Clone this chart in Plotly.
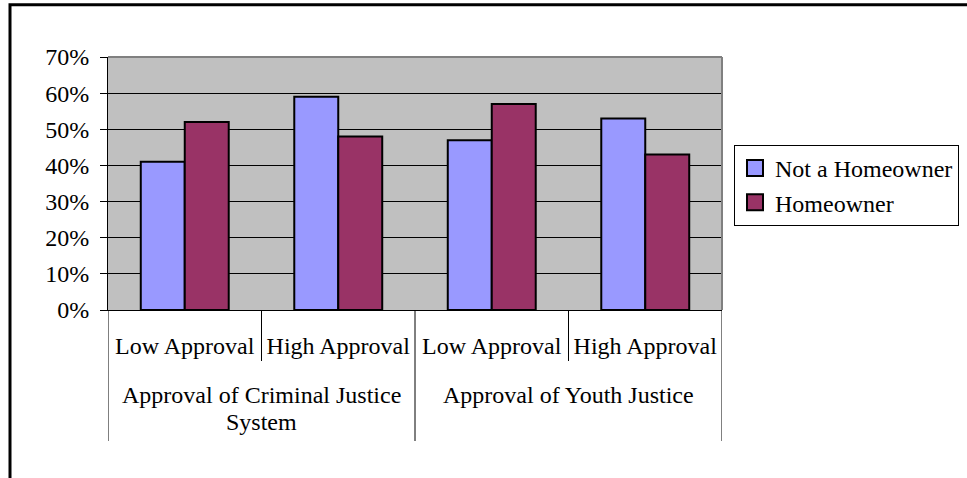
import plotly.graph_objects as go

groups = ["Approval of Criminal Justice System", "Approval of Youth Justice"]
inner = ["Low Approval", "High Approval", "Low Approval", "High Approval"]
positions = [0, 1, 2, 3]
series_names = ["Not a Homeowner", "Homeowner"]
not_homeowner = [0.41, 0.59, 0.47, 0.53]
homeowner = [0.52, 0.48, 0.57, 0.43]
y_ticks = [0, 0.1, 0.2, 0.3, 0.4, 0.5, 0.6, 0.7]

FONT = "Liberation Serif, Times New Roman, serif"
COLORS = ["#9999FF", "#993366"]

fig = go.Figure()
for name, vals, col in zip(series_names, [not_homeowner, homeowner], COLORS):
    fig.add_trace(go.Bar(x=positions, y=vals, name=name, showlegend=False,
                         marker=dict(color=col, line=dict(color="black", width=2))))
# legend entries with larger square swatches
for name, col in zip(series_names, COLORS):
    fig.add_trace(go.Scatter(x=[None], y=[None], mode="markers", name=name,
                             marker=dict(symbol="square", size=16, color=col,
                                         line=dict(color="black", width=2))))

# plot area in page pixels: x 108..722, y 57..310
def px_x(page_x):
    return (page_x - 108) / 614

def px_y(page_y):
    return (310 - page_y) / 253

shapes = [
    dict(type="line", xref="paper", yref="paper", x0=0, x1=1, y0=1, y1=1,
         line=dict(color="#808080", width=2)),
    dict(type="line", xref="paper", yref="paper", x0=1, x1=1, y0=0, y1=1,
         line=dict(color="#808080", width=2)),
    dict(type="rect", xref="paper", yref="paper",
         x0=px_x(10), x1=px_x(990), y0=px_y(500), y1=px_y(4.7),
         line=dict(color="black", width=3)),
]
# inner dividers (between sub-categories) and outer dividers (between groups)
for xb in [0.5, 2.5]:
    shapes.append(dict(type="line", xref="x", yref="paper", x0=xb, x1=xb,
                       y0=0, y1=px_y(361), line=dict(color="black", width=1)))
for xb in [-0.5, 1.5, 3.5]:
    shapes.append(dict(type="line", xref="x", yref="paper", x0=xb, x1=xb,
                       y0=0, y1=px_y(441), line=dict(color="black", width=1)))

annotations = [
    dict(x=0.5, xref="x", y=px_y(395.2), yref="paper", text="Approval of Criminal Justice",
         showarrow=False, xanchor="center", yanchor="middle", font=dict(family=FONT, size=24)),
    dict(x=0.5, xref="x", y=px_y(422), yref="paper", text="System",
         showarrow=False, xanchor="center", yanchor="middle", font=dict(family=FONT, size=24)),
    dict(x=2.5, xref="x", y=px_y(395.2), yref="paper", text=groups[1],
         showarrow=False, xanchor="center", yanchor="middle", font=dict(family=FONT, size=24)),
]

fig.update_layout(
    width=967, height=478,
    margin=dict(l=108, r=245, t=57, b=168, autoexpand=False),
    paper_bgcolor="white", plot_bgcolor="#C0C0C0",
    font=dict(family=FONT, size=24, color="black"),
    barmode="group", bargap=0.427, bargroupgap=0,
    showlegend=True,
    legend=dict(x=px_x(959), y=px_y(145), xanchor="right", yanchor="top",
                bordercolor="black", borderwidth=1, bgcolor="white",
                font=dict(family=FONT, size=24), itemsizing="trace", itemwidth=30),
    xaxis=dict(range=[-0.5, 3.5], tickvals=positions, ticktext=inner,
               showline=True, linecolor="black", linewidth=1, ticks="",
               tickangle=0, automargin=False, ticklabelstandoff=14,
               tickfont=dict(family=FONT, size=24), showgrid=False, zeroline=False),
    yaxis=dict(range=[0, 0.7], tickvals=y_ticks, tickformat=".0%",
               showline=True, linecolor="black", linewidth=1,
               ticks="outside", ticklen=7, tickcolor="black", ticklabelstandoff=6,
               showgrid=True, gridcolor="black", gridwidth=1, automargin=False,
               zeroline=False, tickfont=dict(family=FONT, size=24)),
    shapes=shapes,
    annotations=annotations,
)

fig.write_html("out.html", config={"displayModeBar": False},
               post_script="document.body.style.margin='0';")
